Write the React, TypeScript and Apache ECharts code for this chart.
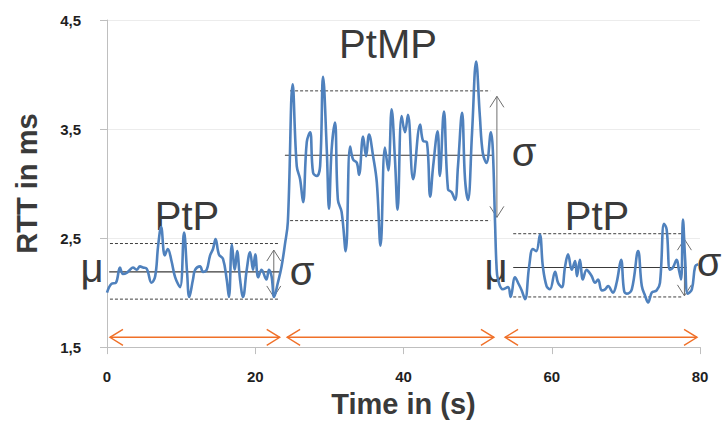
import React, { useEffect, useRef } from 'react';
import * as echarts from 'echarts';

// ---- data ----
const times = [
  0, 0.6, 1.2, 1.75, 2.15, 2.65, 3.1, 3.5, 4.0, 4.45, 4.85, 5.35, 6.0, 6.5, 6.9, 7.3, 7.8, 8.2, 8.7, 9.2,
  9.85, 10.4, 10.8, 11.1, 11.6, 11.9, 12.55, 12.95, 13.45, 13.9, 14.3, 14.65, 15.1, 15.65, 16.15, 16.45,
  16.85, 17.25, 17.55, 17.95, 18.35, 18.85, 19.3, 19.7, 20.0, 20.4, 20.85, 21.5, 21.85, 22.2, 22.55, 23.05,
  23.55, 24.0, 24.4, 25.05, 25.6, 26.05, 26.45, 26.95, 27.4, 27.8, 28.3, 28.75, 29.15, 29.65, 29.95, 30.3,
  30.75, 31.15, 31.65, 32.2, 32.8, 33.2, 33.7, 34.0, 34.55, 34.95, 35.35, 35.9, 36.4, 36.9, 37.5, 37.95,
  38.4, 38.85, 39.2, 39.75, 40.2, 40.6, 41.3, 42.25, 42.65, 43.15, 43.6, 44.0, 44.6, 44.9, 45.45, 46.0,
  46.5, 46.95, 47.35, 47.9, 48.3, 48.7, 49.25, 49.8, 50.3, 50.7, 51.2, 51.8, 52.05, 52.35, 52.55, 52.75,
  53.4, 54.1, 54.45, 55.05, 55.45, 55.95, 56.4, 56.95, 57.45, 57.9, 58.4, 58.8, 59.3, 59.75, 60.45, 60.85,
  61.35, 61.8, 62.2, 62.7, 63.15, 63.4, 63.8, 64.2, 64.7, 65.0, 65.4, 65.85, 66.25, 66.75, 67.2, 67.6,
  68.25, 68.75, 69.35, 69.75, 70.1, 70.8, 71.65, 72.15, 72.6, 73.0, 73.5, 74.15, 74.6, 75.15, 75.5, 75.95,
  76.35, 76.85, 77.15, 77.45, 77.7, 78.0, 78.35, 78.9, 79.35, 79.75,
];
const rtt = [
  2.0, 2.08, 2.09, 2.23, 2.17, 2.18, 2.21, 2.23, 2.21, 2.24, 2.23, 2.22, 2.09, 2.15, 2.43, 2.6, 2.34, 2.4, 2.29, 2.14,
  2.05, 2.55, 2.19, 1.96, 2.12, 2.21, 2.24, 2.19, 2.21, 2.34, 2.4, 2.49, 2.35, 2.31, 2.12, 1.96,
  2.44, 2.21, 2.38, 2.12, 1.96, 2.21, 2.37, 2.21, 2.35, 2.14, 2.21, 2.12, 2.21, 2.15, 1.96, 2.09,
  2.24, 2.44, 2.65, 3.91, 3.16, 3.04, 2.83, 3.38, 3.47, 3.1, 3.07, 3.16, 3.98, 3.31, 2.77, 3.31,
  3.56, 2.85, 2.74, 2.38, 3.34, 3.22, 3.19, 3.08, 3.43, 3.25, 3.45, 3.25, 3.01, 2.43, 3.33, 3.12,
  3.68, 3.22, 2.76, 3.62, 3.47, 3.63, 3.04, 3.54, 3.39, 3.38, 2.88, 3.16, 3.48, 3.07, 3.66, 2.95,
  2.92, 2.85, 3.16, 3.65, 3.04, 2.85, 3.47, 4.12, 3.62, 3.28, 3.19, 3.47, 3.31, 2.64, 2.24, 2.12,
  2.03, 2.05, 1.96, 2.14, 2.09, 2.02, 1.94, 2.24, 2.4, 2.38, 2.53, 2.24, 2.06, 2.03, 2.19, 2.09,
  2.05, 2.24, 2.35, 2.21, 2.29, 2.15, 2.3, 2.12, 2.21, 2.19, 2.15, 2.09, 2.12, 2.02, 2.03, 2.06,
  2.0, 2.09, 2.3, 2.02, 1.99, 2.03, 2.38, 2.06, 1.97, 1.91, 2.0, 2.02, 2.09, 2.63, 2.58, 2.21,
  2.23, 2.3, 2.21, 2.12, 2.67, 2.3, 1.99, 2.03, 2.24, 2.26,
];

// phase statistics (mean and +/- sigma bands)
const meanStart = [0.3, 24.0, 54.8];
const meanEnd = [23.3, 52.1, 78.2];
const bandStart = [0.4, 24.7, 54.8];
const bandEnd = [23.3, 51.7, 77.7];
const phaseMean = [2.19, 3.26, 2.23];
const phaseUpper = [2.45, 3.85, 2.54];
const phaseLower = [1.94, 2.66, 1.96];
const sigmaX = [22.5, 52.6, 77.9];
const sigmaTop = [2.39, 3.8, 2.49];
const sigmaBottom = [1.96, 2.69, 1.97];
// phase duration arrows
const spanStart = [0.4, 24.3, 53.7];
const spanEnd = [23.3, 52.2, 79.6];
const spanLevel = 1.59;

const phaseNames = ['PtP', 'PtMP', 'PtP'];

const FONT = "'Liberation Sans', Arial, sans-serif";

export default function App() {
  const ref = useRef<HTMLDivElement>(null);
  useEffect(() => {
    document.body.style.margin = '0';
    const chart = echarts.init(ref.current!, null, { renderer: 'svg' });

    const seriesData = times.map((t, i) => [t, rtt[i]]);

    // annotation items: [x1, y1, x2, y2, kind]
    // kind 0: mean line, 1: dashed sigma band, 2: gray sigma arrow, 3: orange duration arrow
    const annot: number[][] = [];
    for (let i = 0; i < 3; i++) {
      annot.push([bandStart[i], phaseUpper[i], bandEnd[i], phaseUpper[i], 1]);
      annot.push([bandStart[i], phaseLower[i], bandEnd[i], phaseLower[i], 1]);
      annot.push([meanStart[i], phaseMean[i], meanEnd[i], phaseMean[i], 0]);
      annot.push([sigmaX[i], sigmaTop[i], sigmaX[i], sigmaBottom[i], 2]);
      annot.push([spanStart[i], spanLevel, spanEnd[i], spanLevel, 3]);
    }

    const head = (tip: number[], from: number[], L: number, W: number) => {
      const dx = tip[0] - from[0];
      const dy = tip[1] - from[1];
      const len = Math.sqrt(dx * dx + dy * dy) || 1;
      const ux = dx / len, uy = dy / len;
      const nx = -uy, ny = ux;
      return [
        [tip[0] - L * ux + W * nx, tip[1] - L * uy + W * ny],
        [tip[0], tip[1]],
        [tip[0] - L * ux - W * nx, tip[1] - L * uy - W * ny],
      ];
    };

    const textStyle = (size: number) => ({
      fill: '#3a3a3a',
      font: `${size}px ${FONT}`,
      align: 'center',
      verticalAlign: 'middle',
    });

    chart.setOption({
      animation: false,
      backgroundColor: '#ffffff',
      grid: { left: 107, right: 23, top: 20, bottom: 75, containLabel: false },
      xAxis: {
        type: 'value',
        min: 0,
        max: 80,
        interval: 20,
        name: 'Time in (s)',
        nameLocation: 'middle',
        nameGap: 41,
        nameTextStyle: { fontFamily: FONT, fontWeight: 'bold', fontSize: 29, color: '#3a3a3a' },
        axisLine: { show: true, lineStyle: { color: '#bfbfbf', width: 1 } },
        axisTick: { show: true, length: 7, lineStyle: { color: '#bfbfbf' } },
        axisLabel: { margin: 22, fontFamily: FONT, fontWeight: 'bold', fontSize: 15, color: '#1f1f1f' },
        splitLine: { show: false },
      },
      yAxis: {
        type: 'value',
        min: 1.5,
        max: 4.5,
        interval: 1,
        name: 'RTT in ms',
        nameLocation: 'middle',
        nameGap: 66,
        nameRotate: 90,
        nameTextStyle: { fontFamily: FONT, fontWeight: 'bold', fontSize: 29, color: '#3a3a3a' },
        axisLine: { show: true, lineStyle: { color: '#bfbfbf', width: 1 } },
        axisTick: { show: true, length: 7, lineStyle: { color: '#bfbfbf' } },
        axisLabel: {
          margin: 26,
          fontFamily: FONT,
          fontWeight: 'bold',
          fontSize: 15,
          color: '#1f1f1f',
          formatter: (v: number) => v.toFixed(1).replace('.', ','),
        },
        splitLine: { show: true, lineStyle: { color: '#ececec', width: 1 } },
      },
      series: [
        {
          type: 'custom',
          silent: true,
          clip: false,
          z: 1,
          encode: { x: [0, 2], y: [1, 3] },
          data: annot,
          renderItem: (_params: any, api: any) => {
            const kind = api.value(4);
            const p1 = api.coord([api.value(0), api.value(1)]);
            const p2 = api.coord([api.value(2), api.value(3)]);
            const children: any[] = [];
            if (kind === 0) {
              children.push({
                type: 'line',
                shape: { x1: p1[0], y1: p1[1], x2: p2[0], y2: p2[1] },
                style: { stroke: '#3a3a3a', lineWidth: 1.1 },
              });
            } else if (kind === 1) {
              children.push({
                type: 'line',
                shape: { x1: p1[0], y1: p1[1], x2: p2[0], y2: p2[1] },
                style: { stroke: '#2a2a2a', lineWidth: 0.9, lineDash: [3, 2] },
              });
            } else {
              const color = kind === 2 ? '#6e6e6e' : '#f07028';
              const lw = kind === 2 ? 1 : 1.4;
              const L = kind === 2 ? 11 : 13;
              const W = kind === 2 ? 7 : 8;
              children.push({
                type: 'line',
                shape: { x1: p1[0], y1: p1[1], x2: p2[0], y2: p2[1] },
                style: { stroke: color, lineWidth: lw },
              });
              children.push({
                type: 'polyline',
                shape: { points: head(p1, p2, L, W) },
                style: { stroke: color, fill: null, lineWidth: lw },
              });
              children.push({
                type: 'polyline',
                shape: { points: head(p2, p1, L, W) },
                style: { stroke: color, fill: null, lineWidth: lw },
              });
            }
            return { type: 'group', children };
          },
        },
        {
          type: 'line',
          data: seriesData,
          smooth: 0.4,
          showSymbol: false,
          symbol: 'none',
          z: 3,
          lineStyle: { color: '#4f81bd', width: 2.6 },
        },
      ],
      graphic: [
        { type: 'text', x: 187, y: 216, style: { text: phaseNames[0], ...textStyle(40) } },
        { type: 'text', x: 388, y: 44, style: { text: phaseNames[1], ...textStyle(40) } },
        { type: 'text', x: 597, y: 216, style: { text: phaseNames[2], ...textStyle(40) } },
        { type: 'text', x: 92, y: 268, style: { text: 'μ', ...textStyle(40) } },
        { type: 'text', x: 302, y: 271, style: { text: 'σ', ...textStyle(40) } },
        { type: 'text', x: 524, y: 152, style: { text: 'σ', ...textStyle(40) } },
        { type: 'text', x: 496, y: 268, style: { text: 'μ', ...textStyle(40) } },
        { type: 'text', x: 709, y: 262, style: { text: 'σ', ...textStyle(40) } },
      ],
    });

    return () => chart.dispose();
  }, []);
  return <div ref={ref} style={{ width: 723, height: 423 }} />;
}
